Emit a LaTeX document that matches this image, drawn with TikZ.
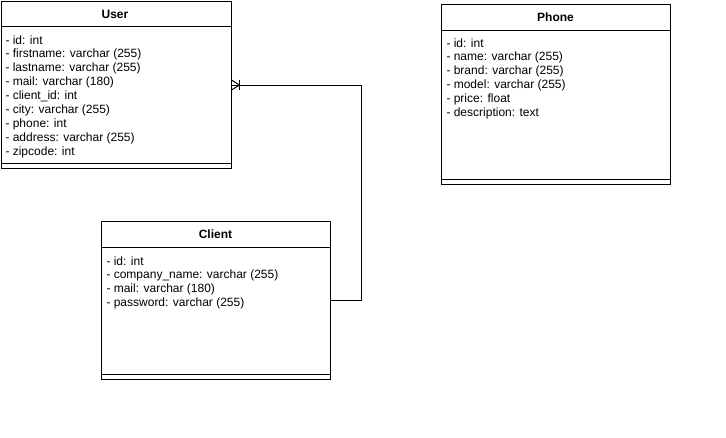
\documentclass[tikz,border=0pt]{standalone}
\usepackage{fontspec}
\setmainfont{Liberation Sans}
\begin{document}
\begin{tikzpicture}[x=1pt,y=-1pt,line width=1pt,
  entity/.style={draw,anchor=north west,inner sep=0pt,fill=white},
  title/.style={font=\fontsize{12}{14}\selectfont\bfseries,anchor=center,inner sep=0pt},
  attr/.style={font=\fontsize{12}{14}\selectfont,anchor=west,inner sep=0pt}]
\useasboundingbox[fill=white] (0,0) rectangle (726,437);
% User
\node[entity,minimum width=230pt,minimum height=167pt] (user) at (0.5,1) {};
\draw (user.west |- 0,26) -- (user.east |- 0,26);
\draw (user.west |- 0,163) -- (user.east |- 0,163);
\node[title] (usert) at (115,14) {User};
\foreach \t [count=\i from 0] in {- id: int,- firstname: varchar (255),- lastname: varchar (255),- mail: varchar (180),- client\_id: int,- city: varchar (255),- phone: int,- address: varchar (255),- zipcode: int}
  \node[attr] (ua\i) at (5,{40+14*\i}) {\t};
% Phone
\node[entity,minimum width=229pt,minimum height=180pt] (phone) at (441,4) {};
\draw (phone.west |- 0,30) -- (phone.east |- 0,30);
\draw (phone.west |- 0,179) -- (phone.east |- 0,179);
\node[title] (phonet) at (555.5,17.5) {Phone};
\foreach \t [count=\i from 0] in {- id: int,- name: varchar (255),- brand: varchar (255),- model: varchar (255),- price: float,- description: text}
  \node[attr] (pa\i) at (446,{43.5+14*\i}) {\t};
% Client
\node[entity,minimum width=229pt,minimum height=158pt] (client) at (101,221) {};
\draw (client.west |- 0,247) -- (client.east |- 0,247);
\draw (client.west |- 0,374) -- (client.east |- 0,374);
\node[title] (clientt) at (215.5,234.5) {Client};
\foreach \t [count=\i from 0] in {- id: int,- company\_name: varchar (255),- mail: varchar (180),- password: varchar (255)}
  \node[attr] (ca\i) at (106,{261+14*\i}) {\t};
% connector
\coordinate (tip) at ([xshift=8pt]user.east);
\draw (client.east) -- ++(30,0) |- (user.east);
\draw (tip) -- ([yshift=-5pt]user.east) (tip) -- ([yshift=5pt]user.east);
\draw ([yshift=-5pt]tip) -- ([yshift=5pt]tip);
\end{tikzpicture}
\end{document}
